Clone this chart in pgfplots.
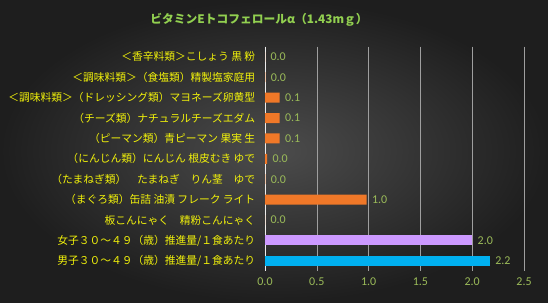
\documentclass[border=0pt]{standalone}
\usepackage{pgfplots}
\pgfplotsset{compat=1.18}
\usepackage{fontspec}
\setmainfont{Carlito}
\newfontfamily\jp{Noto Sans CJK JP}
\definecolor{bgin}{HTML}{4C4C4C}
\definecolor{bgout}{HTML}{1E1E1E}
\definecolor{ttl}{HTML}{92D050}
\definecolor{lab}{HTML}{F2F20A}
\definecolor{val}{HTML}{9BBB59}
\definecolor{org}{HTML}{F07828}
\definecolor{pur}{HTML}{CC99FF}
\definecolor{cy}{HTML}{00B0F0}
\begin{document}
\begin{tikzpicture}[x=1bp,y=1bp]
\shade[inner color=bgin,outer color=bgout] (0,0) rectangle (548,302);
\node[font=\jp\bfseries\fontsize{11.8}{13}\selectfont,text=ttl] at (259,282) {ビタミンEトコフェロールα（1.43mｇ）};
\begin{axis}[
  at={(265bp,31bp)}, anchor=south west,
  scale only axis, width=259bp, height=224.4bp,
  xbar, bar width=10bp, bar shift=0pt,
  xmin=0, xmax=2.5, ymin=-0.5, ymax=10.5,
  y dir=reverse,
  xtick={0,0.5,...,2.5},
  ytick={0,...,10},
  yticklabels={
    ＜香辛料類＞こしょう 黒 粉,
    ＜調味料類＞（食塩類）精製塩家庭用,
    ＜調味料類＞（ドレッシング類）マヨネーズ卵黄型,
    （チーズ類）ナチュラルチーズエダム,
    （ピーマン類）青ピーマン 果実 生,
    （にんじん類）にんじん 根皮むき ゆで,
    （たまねぎ類）　たまねぎ　りん茎　ゆで,
    （まぐろ類）缶詰 油漬 フレーク ライト,
    板こんにゃく　精粉こんにゃく,
    女子３０～４９（歳）推進量/１食あたり,
    男子３０～４９（歳）推進量/１食あたり},
  yticklabel style={font=\jp\fontsize{10.8}{11}\selectfont, text=lab, xshift=-2bp},
  xticklabel style={font=\fontsize{12}{13}\selectfont, text=val, yshift=-3bp,
    /pgf/number format/.cd, fixed, fixed zerofill, precision=1, assume math mode=true},
  axis line style={draw=none},
  major tick style={draw=none},
  xmajorgrids, grid style={gray!75, line width=0.5pt},
  clip=false,
  nodes near coords,
  every node near coord/.append style={font=\fontsize{12}{13}\selectfont, text=val, anchor=west, xshift=2bp,
    /pgf/number format/.cd, fixed, fixed zerofill, precision=1, assume math mode=true},
]
\draw[white!85!gray, line width=0.7pt] (axis cs:0,-0.5) -- (axis cs:0,10.5);
\addplot[fill=org, draw=none] coordinates {
 (0,0) (0.003,1) (0.14,2) (0.14,3) (0.14,4) (0.02,5) (0.003,6) (0.98,7) (0,8)};
\addplot[fill=pur, draw=none] coordinates {(2.0,9)};
\addplot[fill=cy, draw=none] coordinates {(2.17,10)};
\end{axis}
\end{tikzpicture}
\end{document}
